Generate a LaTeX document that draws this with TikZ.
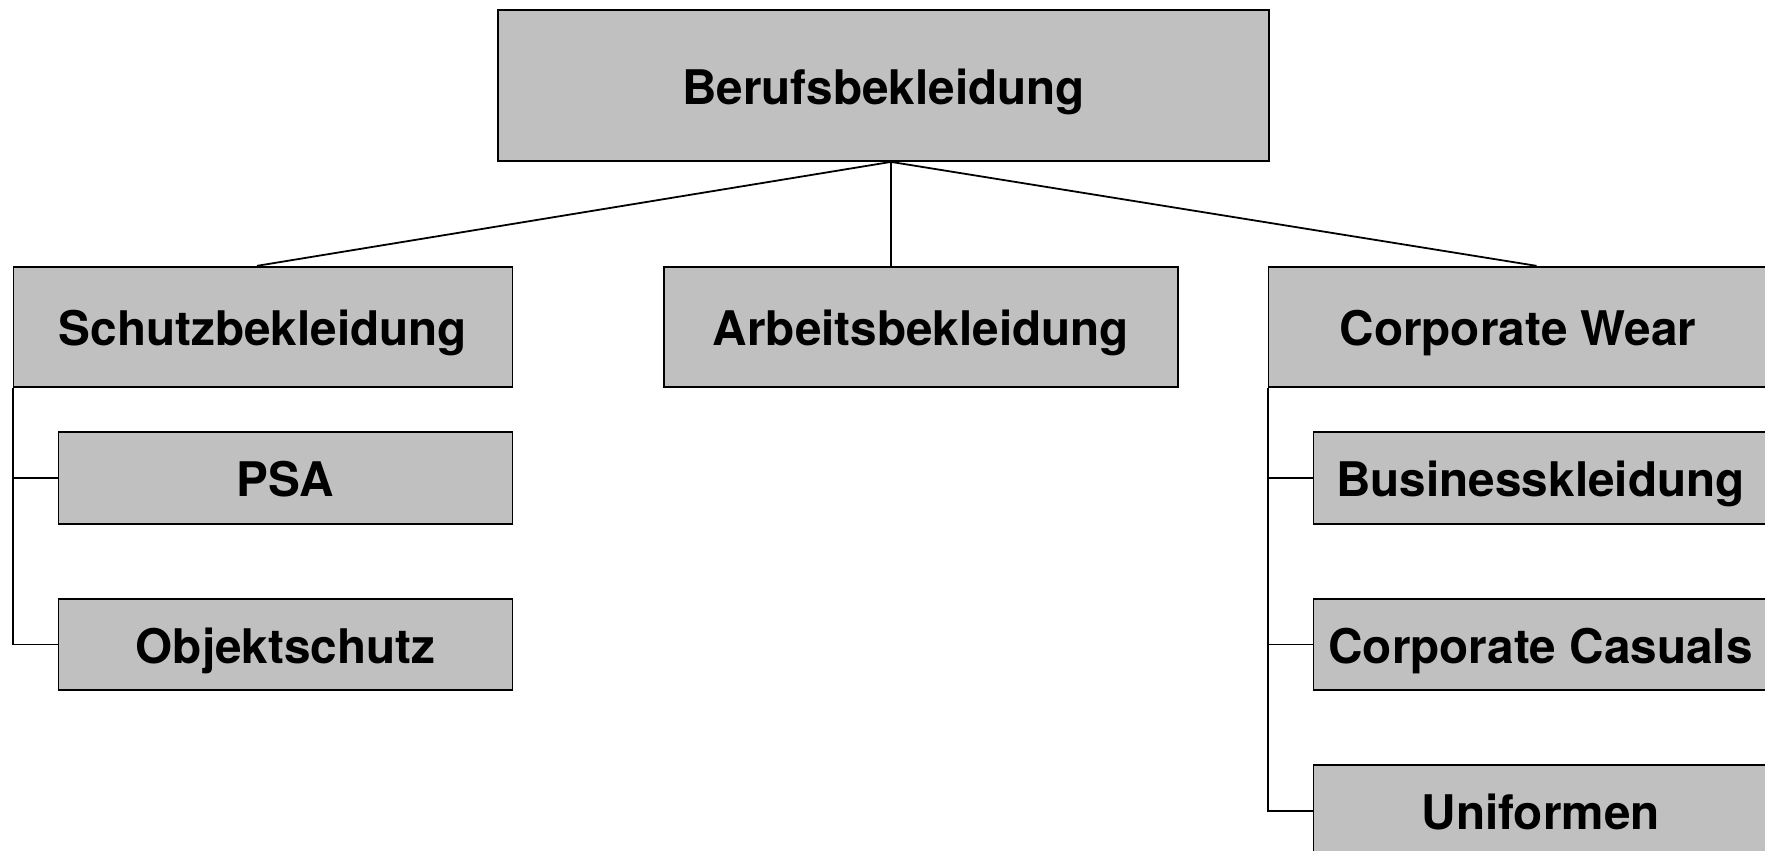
\documentclass[tikz,border=0pt]{standalone}
\usepackage{fontspec}
\setmainfont{TeX Gyre Heros}
\begin{document}
\begin{tikzpicture}[x=1pt,y=-1pt,
  box/.style={draw=black, fill=boxgray, line width=1.8pt, inner sep=0pt,
    text height=37pt, text depth=0pt,
    font=\fontsize{47.7}{56}\selectfont\bfseries, align=center},
  link/.style={draw=black, line width=1.8pt}]
\definecolor{boxgray}{RGB}{192,192,192}
\useasboundingbox (0,0) rectangle (1765,851);
\clip (0,0) rectangle (1765,851);
\node[box, minimum width=771pt, minimum height=151pt] (top) at (883.5,85.5) {Berufsbekleidung};
\node[box, minimum width=499pt, minimum height=120.5pt] (schutz) at (263,327) {Schutzbekleidung};
\node[box, minimum width=513.5pt, minimum height=120.5pt] (arbeit) at (921,327) {Arbeitsbekleidung};
\node[box, minimum width=499pt, minimum height=120.5pt] (corp) at (1518,327) {Corporate Wear};
\node[box, minimum width=454pt, minimum height=92pt] (psa) at (285.5,478.3) {PSA};
\node[box, minimum width=454pt, minimum height=91pt] (objekt) at (285.5,644.5) {Objektschutz};
\node[box, minimum width=454pt, minimum height=92pt] (business) at (1540.5,478.3) {Businesskleidung};
\node[box, minimum width=454pt, minimum height=91pt] (casuals) at (1540.5,644.5) {Corporate Casuals};
\node[box, minimum width=454pt, minimum height=92pt] (uniform) at (1540.5,811) {Uniformen};
\coordinate (hub) at ([xshift=7.5pt]top.south);
\draw[link] (hub) -- ([xshift=-6pt]schutz.north);
\draw[link] (hub) -- (hub |- arbeit.north);
\draw[link] (hub) -- ([xshift=18.5pt]corp.north);
\draw[link] (schutz.south west) |- (psa.west);
\draw[link] (schutz.south west) |- (objekt.west);
\draw[link] (corp.south west) |- (business.west);
\draw[link] (corp.south west) |- (casuals.west);
\draw[link] (corp.south west) |- (uniform.west);
\end{tikzpicture}
\end{document}
